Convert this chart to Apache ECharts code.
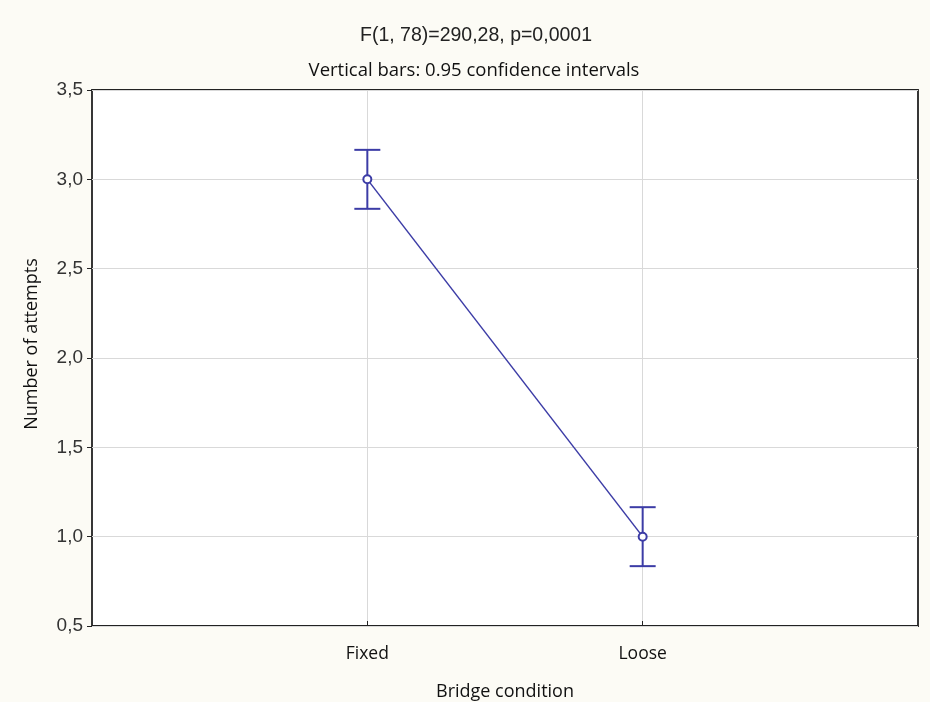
<!DOCTYPE html>
<html>
<head>
<meta charset="utf-8">
<script src="https://cdn.jsdelivr.net/npm/echarts@6/dist/echarts.min.js"></script>
<style>html,body{margin:0;padding:0;background:#fcfbf5;}#c{width:930px;height:702px;}</style>
</head>
<body>
<div id="c"></div>
<script>
var categories = ['', 'Fixed', 'Loose', ''];
var groups = ['Fixed', 'Loose'];
var means = [3.0, 1.0];
var ciLow = [2.835, 0.835];
var ciHigh = [3.165, 1.165];
var yTicks = [0.5, 1.0, 1.5, 2.0, 2.5, 3.0, 3.5];

var lineColor = '#3c3ca6';
var chart = echarts.init(document.getElementById('c'));
var lineData = groups.map(function (g, i) { return [g, means[i]]; });
var errData = groups.map(function (g, i) { return [g, ciLow[i], ciHigh[i]]; });
var showIdx = function (idx) { return idx === 1 || idx === 2; };

chart.setOption({
  backgroundColor: '#fcfbf5',
  animation: false,
  title: [
    { text: 'F(1, 78)=290,28, p=0,0001', left: 471, top: 21, textAlign: 'center',
      textStyle: { fontFamily: 'Liberation Sans, Arial', fontSize: 19.5, fontWeight: 'normal', color: '#222' } },
    { text: 'Vertical bars: 0.95 confidence intervals', left: 469, top: 56, textAlign: 'center',
      textStyle: { fontFamily: 'Open Sans', fontSize: 18.5, fontWeight: 'normal', color: '#111' } }
  ],
  graphic: [
    { type: 'text', x: 32, y: 344, rotation: Math.PI / 2,
      style: { text: 'Number of attempts', fontFamily: 'Open Sans', fontSize: 18, fill: '#111', align: 'center', verticalAlign: 'middle' } }
  ],
  grid: { left: 92, right: 12, top: 90, bottom: 76, outerBoundsMode: 'none', containLabel: false,
    show: true, backgroundColor: '#ffffff', borderColor: '#222', borderWidth: 1.8 },
  xAxis: {
    type: 'category', data: categories, boundaryGap: false,
    name: 'Bridge condition', nameLocation: 'middle', nameGap: 57,
    nameTextStyle: { fontFamily: 'Open Sans', fontSize: 18, color: '#111' },
    axisLine: { show: false },
    axisTick: { show: true, inside: true, length: 5, interval: function (i) { return showIdx(i); }, lineStyle: { color: '#222' } },
    axisLabel: { margin: 19, interval: function (i) { return showIdx(i); }, fontFamily: 'Open Sans', fontSize: 17.5, color: '#111' },
    splitLine: { show: true, interval: function (i) { return showIdx(i); }, lineStyle: { color: '#d9d9d9', width: 1 } }
  },
  yAxis: {
    type: 'value', min: yTicks[0], max: yTicks[yTicks.length - 1], interval: 0.5,
    axisLine: { show: false },
    axisTick: { show: true, inside: false, length: 5, lineStyle: { color: '#222' } },
    axisLabel: { margin: 9, fontFamily: 'Liberation Sans, Arial', fontSize: 19, color: '#333',
      formatter: function (v) { return v.toFixed(1).replace('.', ','); } },
    splitLine: { show: true, lineStyle: { color: '#d9d9d9', width: 1 } }
  },
  series: [
    {
      type: 'custom',
      data: errData,
      encode: { x: 0, y: [1, 2] },
      z: 3,
      renderItem: function (params, api) {
        var x = api.coord([api.value(0), api.value(1)])[0];
        var lo = api.coord([api.value(0), api.value(1)])[1];
        var hi = api.coord([api.value(0), api.value(2)])[1];
        var hw = 13;
        var st = { stroke: lineColor, lineWidth: 2 };
        return { type: 'group', children: [
          { type: 'line', shape: { x1: x, y1: lo, x2: x, y2: hi }, style: st },
          { type: 'line', shape: { x1: x - hw, y1: lo, x2: x + hw, y2: lo }, style: st },
          { type: 'line', shape: { x1: x - hw, y1: hi, x2: x + hw, y2: hi }, style: st }
        ]};
      }
    },
    {
      type: 'line', data: lineData, z: 4,
      symbol: 'circle', symbolSize: 8,
      itemStyle: { color: '#ffffff', borderColor: lineColor, borderWidth: 2 },
      lineStyle: { color: lineColor, width: 1.5 }
    }
  ]
});
</script>
</body>
</html>
